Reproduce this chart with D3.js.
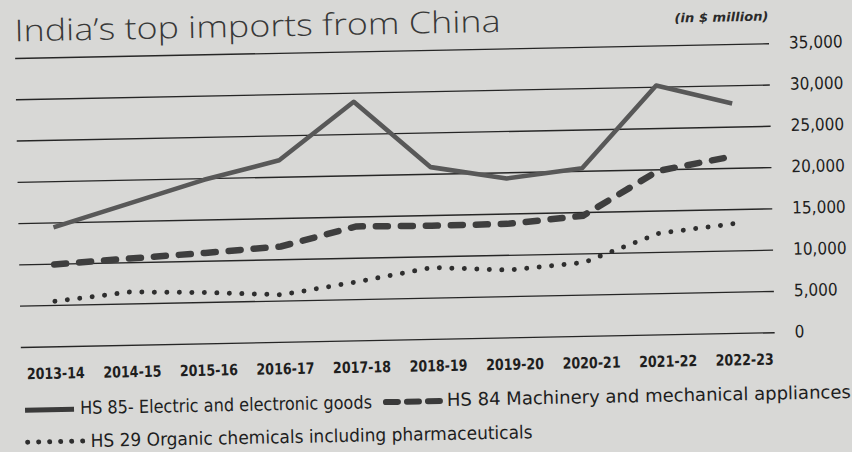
<!DOCTYPE html>
<html>
<head>
<meta charset="utf-8">
<script src="https://cdn.jsdelivr.net/npm/d3@7"></script>
<style>
  html, body { margin: 0; padding: 0; background: #d8d8d6; }
  svg { display: block; }
</style>
</head>
<body>
<svg id="chart" width="852" height="452"></svg>
<script>
// ---- data ($ million) ----
const years = ["2013-14","2014-15","2015-16","2016-17","2017-18","2018-19","2019-20","2020-21","2021-22","2022-23"];
const hs85 = [14400, 17100, 19800, 22000, 28900, 20800, 19250, 20300, 30150, 27800];
const hs84 = [9900, 10450, 10950, 11550, 13800, 13700, 13750, 14550, 19800, 21400];
const hs29 = [5450, 6400, 6150, 5700, 7100, 8650, 8150, 8900, 12250, 13250];
const yTicks = [0, 5000, 10000, 15000, 20000, 25000, 30000, 35000];
const seriesNames = [
  "HS 85- Electric and electronic goods",
  "HS 84 Machinery and mechanical appliances",
  "HS 29 Organic chemicals including pharmaceuticals"
];
const title = "India\u2019s top imports from China";
const unitNote = "(in $ million)";

// ---- layout ----
const W = 852, H = 452;
const svg = d3.select("#chart");
svg.append("rect").attr("width", W).attr("height", H).attr("fill", "#d8d8d6");

// the scanned page is slightly tilted
const g = svg.append("g").attr("transform", "rotate(-1.12,390,200)");

const gridLeft = 18, gridRight = 772;
const y = d3.scaleLinear().domain([0, 35000]).range([339.7, 50.7]);
const xLine = d3.scalePoint().domain(years).range([53, 734]);
const xLabel = d3.scalePoint().domain(years).range([52, 741]);

const condensed = "'DejaVu Sans Condensed', 'Liberation Sans Narrow', 'DejaVu Sans', sans-serif";

// title
g.append("text")
  .attr("x", 18).attr("y", 34)
  .attr("font-family", "'Open Sans', 'Noto Sans', sans-serif")
  .attr("font-weight", 300)
  .attr("font-size", 30)
  .attr("fill", "#383838")
  .attr("textLength", 486).attr("lengthAdjust", "spacingAndGlyphs")
  .text(title);

g.append("text")
  .attr("x", 678).attr("y", 28)
  .attr("font-family", condensed)
  .attr("font-weight", "bold")
  .attr("font-style", "italic")
  .attr("font-size", 12.5)
  .attr("fill", "#2a2a2a")
  .attr("textLength", 94).attr("lengthAdjust", "spacingAndGlyphs")
  .text(unitNote);

// y axis with gridlines
const yAxis = d3.axisRight(y)
  .tickValues(yTicks)
  .tickSize(-(gridRight - gridLeft))
  .tickPadding(20)
  .tickFormat(d3.format(","));
const ya = g.append("g").attr("transform", `translate(${gridRight},0)`).call(yAxis);
ya.select(".domain").remove();
ya.selectAll(".tick line").attr("stroke", "#262626").attr("stroke-width", 1.4);
ya.selectAll(".tick text")
  .attr("font-family", condensed)
  .attr("font-size", 17)
  .attr("fill", "#1e1e1e")
  .attr("dy", "0.3em");

// x axis labels
const xAxis = d3.axisBottom(xLabel).tickSize(0).tickPadding(0);
const xa = g.append("g").attr("transform", "translate(0,360)").call(xAxis);
xa.select(".domain").remove();
xa.selectAll(".tick text")
  .attr("font-family", condensed)
  .attr("font-weight", "bold")
  .attr("font-size", 15.5)
  .attr("fill", "#1e1e1e")
  .attr("dy", "0.78em")
  .attr("textLength", 58).attr("lengthAdjust", "spacingAndGlyphs");

// lines
const line = d3.line().x((d, i) => xLine(years[i])).y(d => y(d));

g.append("path").datum(hs29)
  .attr("d", line).attr("fill", "none")
  .attr("stroke", "#2e2e2e").attr("stroke-width", 5)
  .attr("stroke-linecap", "round")
  .attr("stroke-dasharray", "0,12.5");

g.append("path").datum(hs84)
  .attr("d", line).attr("fill", "none")
  .attr("stroke", "#3e3e3e").attr("stroke-width", 6.5)
  .attr("stroke-linecap", "round")
  .attr("stroke-dasharray", "12,13");

g.append("path").datum(hs85)
  .attr("d", line).attr("fill", "none")
  .attr("stroke", "#585858").attr("stroke-width", 4.6)
  .attr("stroke-linejoin", "round").attr("stroke-linecap", "butt");

// legend
const leg = g.append("g");
const legY1 = 401, legY2 = 434;
leg.append("line").attr("x1", 21).attr("x2", 70).attr("y1", legY1 + 2).attr("y2", legY1 + 2)
  .attr("stroke", "#3a3a3a").attr("stroke-width", 5);
leg.append("text").attr("x", 76).attr("y", legY1 + 7)
  .attr("font-family", condensed).attr("font-size", 18).attr("fill", "#1e1e1e")
  .attr("textLength", 292).attr("lengthAdjust", "spacingAndGlyphs")
  .text(seriesNames[0]);
leg.append("line").attr("x1", 382).attr("x2", 436).attr("y1", legY1 + 1).attr("y2", legY1 + 1)
  .attr("stroke", "#3a3a3a").attr("stroke-width", 6).attr("stroke-linecap", "round")
  .attr("stroke-dasharray", "12,9");
leg.append("text").attr("x", 443).attr("y", legY1 + 6)
  .attr("font-family", condensed).attr("font-size", 18).attr("fill", "#1e1e1e")
  .attr("textLength", 404).attr("lengthAdjust", "spacingAndGlyphs")
  .text(seriesNames[1]);
leg.append("line").attr("x1", 23).attr("x2", 80).attr("y1", legY2 + 1).attr("y2", legY2 + 1)
  .attr("stroke", "#2e2e2e").attr("stroke-width", 5).attr("stroke-linecap", "round")
  .attr("stroke-dasharray", "0,11");
leg.append("text").attr("x", 86).attr("y", legY2 + 7)
  .attr("font-family", condensed).attr("font-size", 18).attr("fill", "#1e1e1e")
  .attr("textLength", 442).attr("lengthAdjust", "spacingAndGlyphs")
  .text(seriesNames[2]);
</script>
</body>
</html>
